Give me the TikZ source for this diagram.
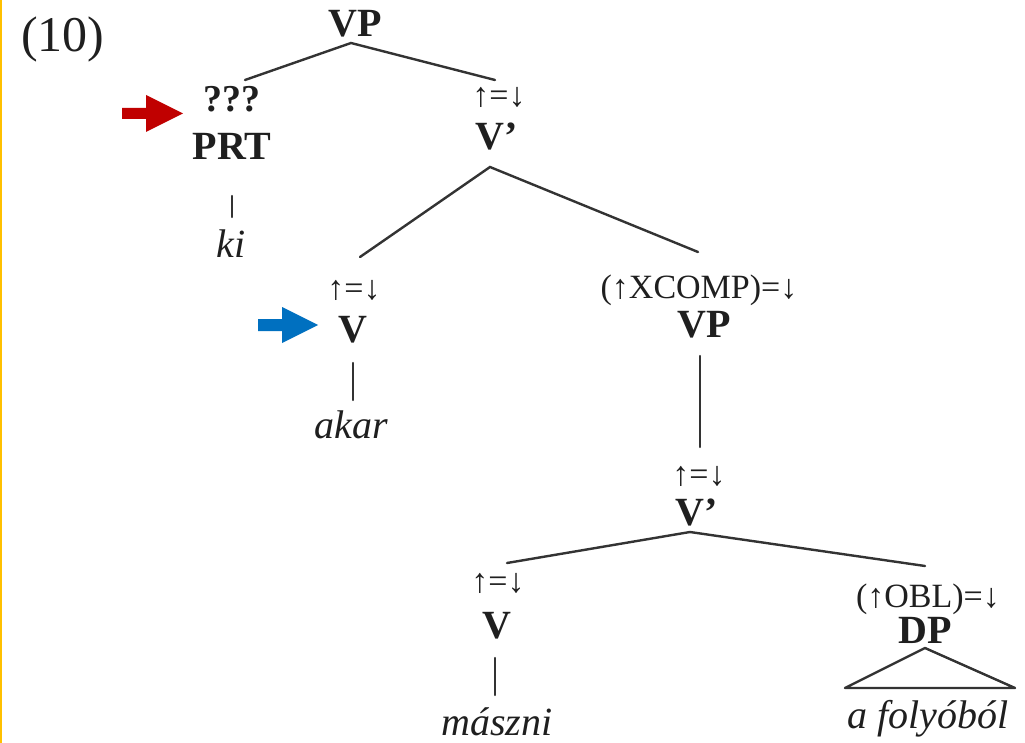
\documentclass[tikz,border=0pt]{standalone}
\usepackage{fontspec}
\setmainfont{Liberation Serif}
\begin{document}
\begin{tikzpicture}[x=1pt,y=-1pt,
  every node/.style={inner sep=0pt,outer sep=0pt,text=black!88},
  cat/.style={anchor=base,font=\fontsize{40}{44}\selectfont\bfseries},
  ann/.style={anchor=center,font=\fontsize{34}{38}\selectfont},
  word/.style={anchor=base,font=\fontsize{40}{44}\selectfont\itshape},
  branch/.style={draw=black!80,line width=2.4pt,line cap=round}]
\useasboundingbox (0,0) rectangle (1025,743);
\fill[white] (0,0) rectangle (1025,743);
\fill[color={rgb,255:red,255;green,192;blue,0}] (0,0) rectangle (2,743);

% example number
\node[anchor=base,font=\fontsize{50}{54}\selectfont] (num) at (63,52) {(10)};

% labels
\node[cat] (vp1) at (355,37) {VP};
\node[anchor=base,font=\fontsize{38}{42}\selectfont\bfseries] (qqq) at (232,112) {???};
\node[cat] (prt) at (232,160) {PRT};
\node[word] (ki) at (231,258) {ki};
\node[ann] (a1) at (499,97) {↑=↓};
\node[cat] (vbar1) at (497,150) {V'};
\node[ann] (a2) at (354,290) {↑=↓};
\node[cat] (v1) at (353,342) {V};
\node[word] (akar) at (351,438) {akar};
\node[ann] (a3) at (699,290) {(↑XCOMP)=↓};
\node[cat] (vp2) at (704,337) {VP};
\node[ann] (a4) at (699,476) {↑=↓};
\node[cat] (vbar2) at (697,525) {V'};
\node[ann] (a5) at (498,583) {↑=↓};
\node[cat] (v2) at (497,638) {V};
\node[word] (maszni) at (497,735) {mászni};
\node[ann] (a6) at (928,599) {(↑OBL)=↓};
\node[cat] (dp) at (925,643) {DP};
\node[word] (folyo) at (928,728) {a folyóból};

% branch points
\coordinate (vp1b) at (351,43);
\coordinate (prtt) at (245,80);
\coordinate (a1t) at (495,80);
\coordinate (vbar1b) at (490,167);
\coordinate (a2t) at (360,257);
\coordinate (a3t) at (698,252);
\coordinate (prtb) at (232,196);
\coordinate (kit) at (232,217);
\coordinate (v1b) at (353,363);
\coordinate (akart) at (353,400);
\coordinate (vp2b) at (700,356);
\coordinate (a4t) at (700,447);
\coordinate (vbar2b) at (690,532);
\coordinate (a5t) at (507,563);
\coordinate (a6t) at (925,566);
\coordinate (v2b) at (495,658);
\coordinate (mt) at (495,695);
\coordinate (dpb) at (925,648);
\coordinate (tl) at (845,688);
\coordinate (tr) at (1015,688);

\draw[branch] (prtt) -- (vp1b) -- (a1t);
\draw[branch] (a2t) -- (vbar1b) -- (a3t);
\draw[branch] (prtb) -- (kit);
\draw[branch] (v1b) -- (akart);
\draw[branch] (vp2b) -- (a4t);
\draw[branch] (a5t) -- (vbar2b) -- (a6t);
\draw[branch] (v2b) -- (mt);
\draw[branch,line join=round] (dpb) -- (tl) -- (tr) -- cycle;

% pointer arrows
\fill[color={rgb,255:red,192;green,0;blue,0}] (122,108) -- (146,108) -- (146,95) -- (183,113.5) -- (146,132) -- (146,119) -- (122,119) -- cycle;
\fill[color={rgb,255:red,0;green,112;blue,192}] (258,319) -- (282,319) -- (282,307) -- (318,325) -- (282,343) -- (282,331) -- (258,331) -- cycle;
\end{tikzpicture}
\end{document}
